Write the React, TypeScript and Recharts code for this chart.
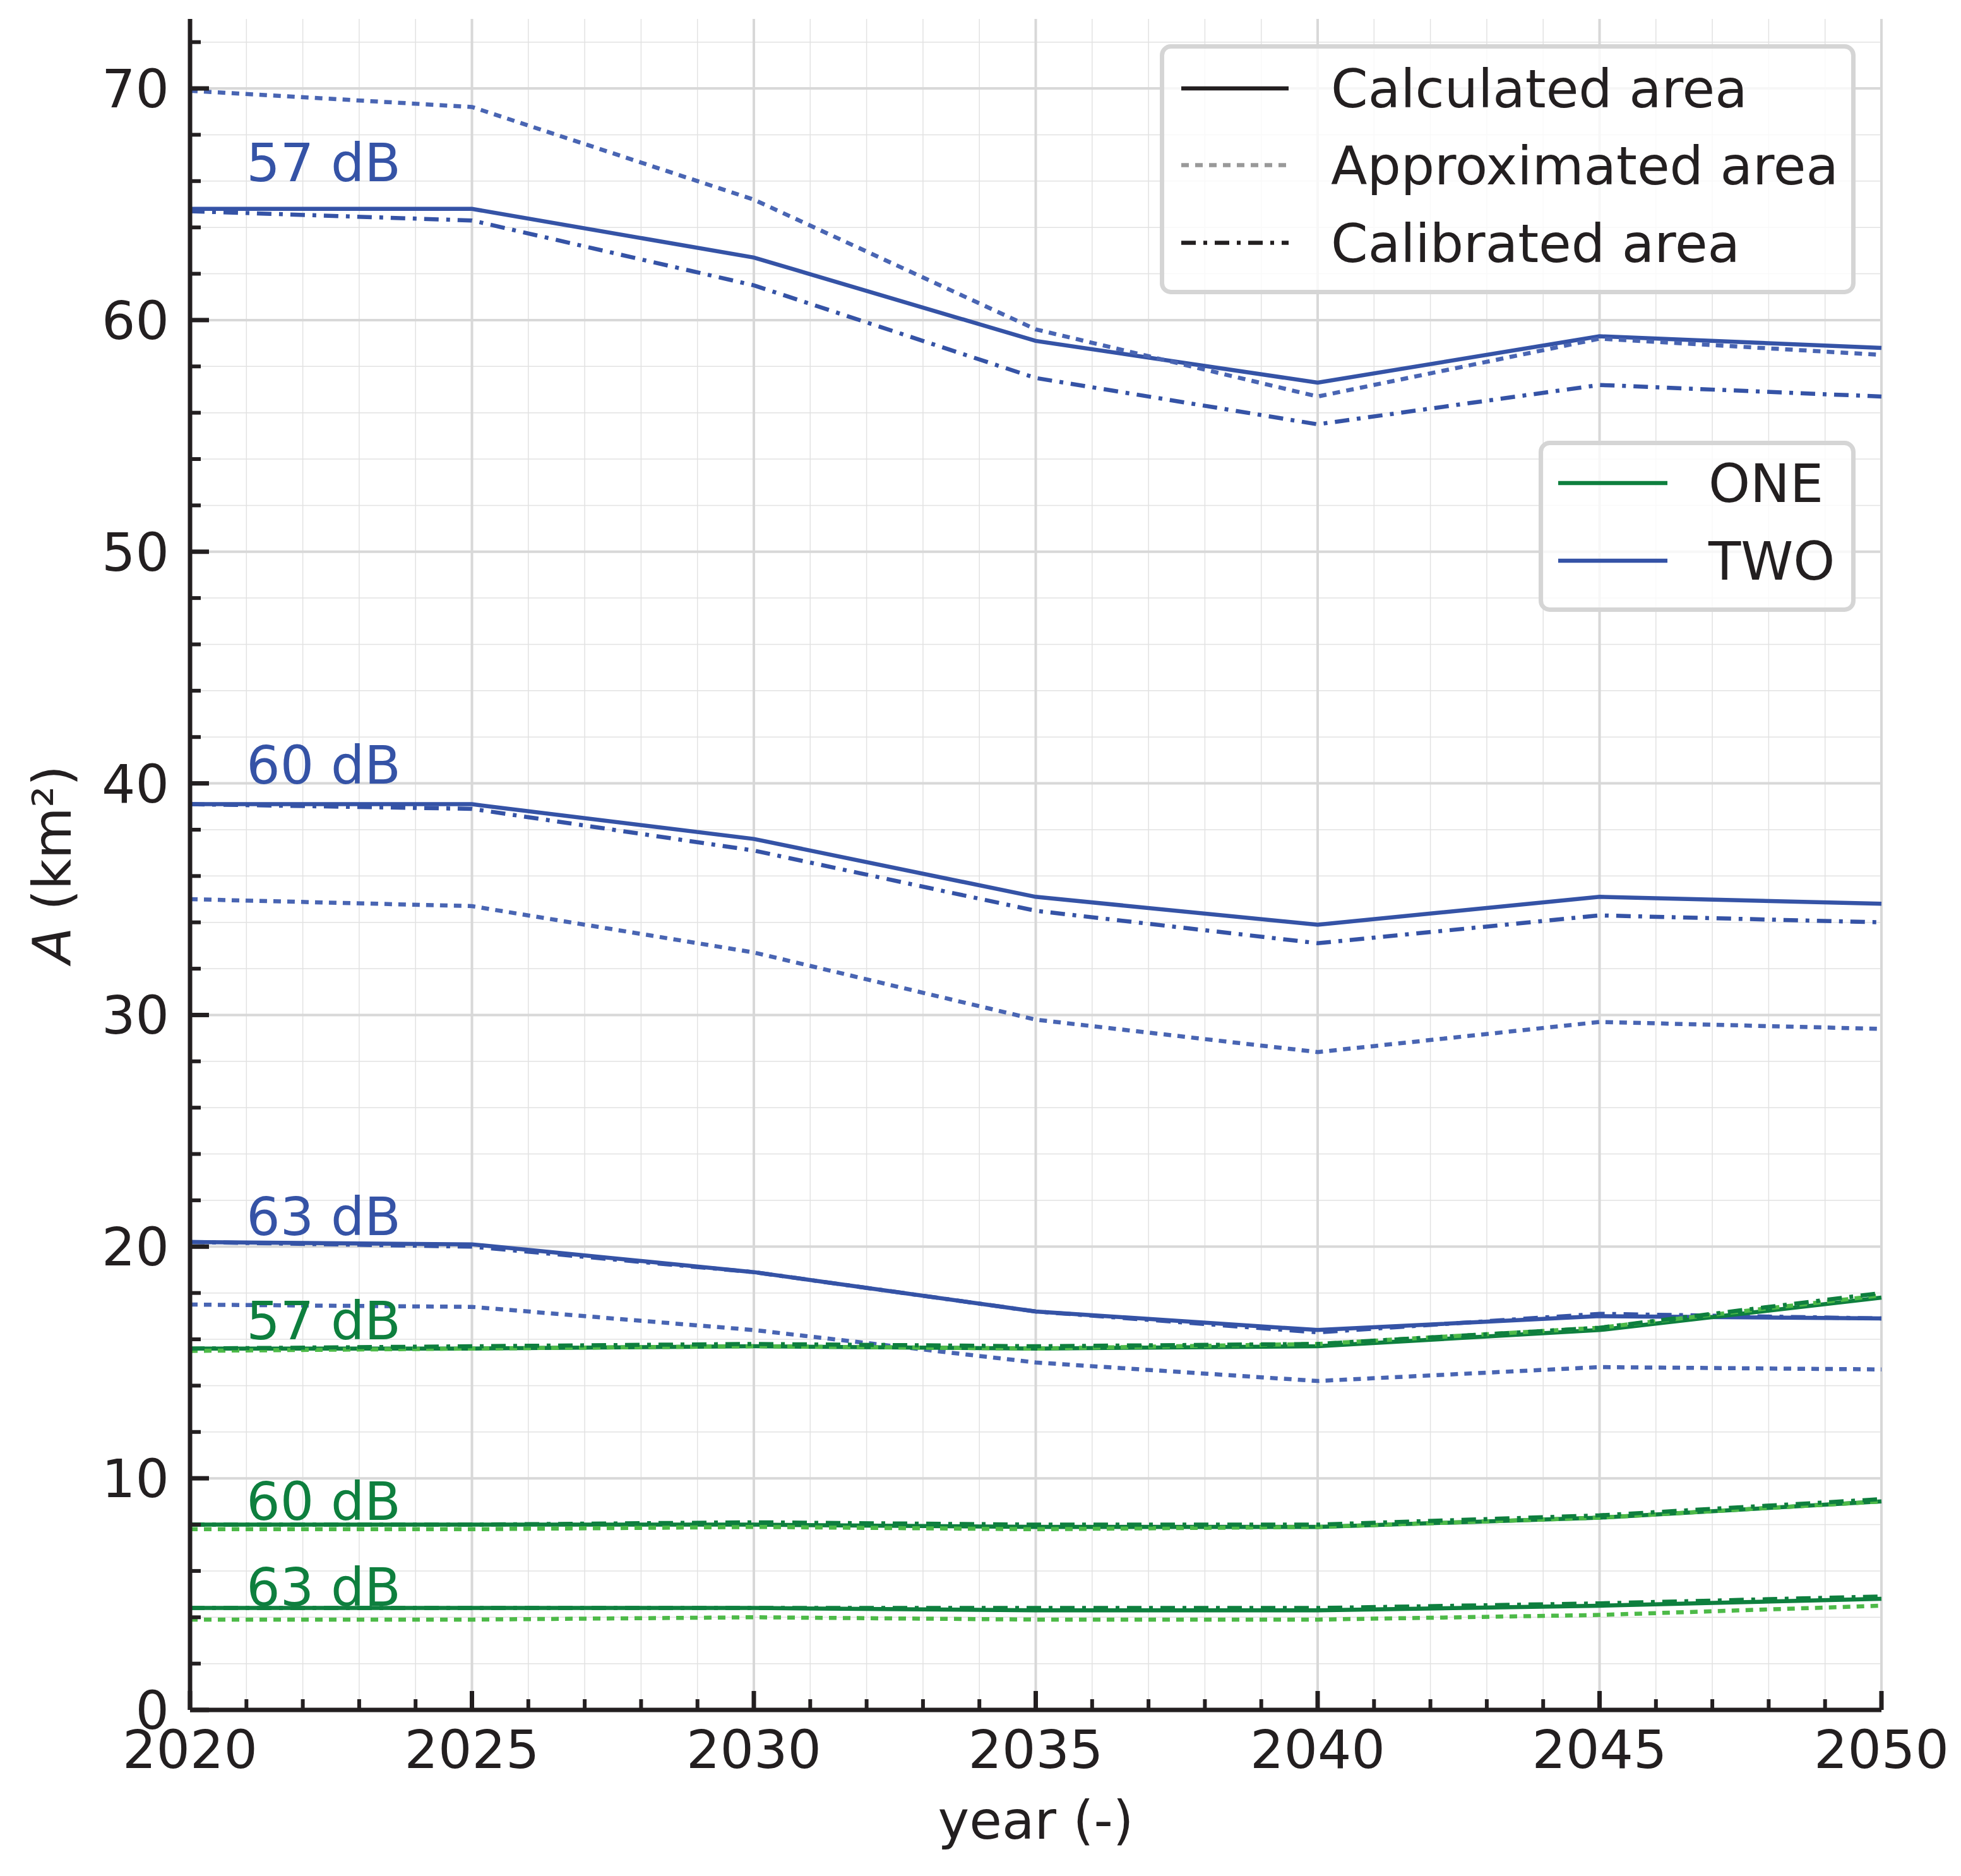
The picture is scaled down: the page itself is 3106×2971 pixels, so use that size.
import React from "react";
import { LineChart, Line, XAxis, YAxis, CartesianGrid, ReferenceDot } from "recharts";

// ---- data ----
const years = [2020, 2025, 2030, 2035, 2040, 2045, 2050];

const two57Calc = [64.8, 64.8, 62.7, 59.1, 57.3, 59.3, 58.8];
const two57Approx = [69.9, 69.2, 65.2, 59.6, 56.7, 59.2, 58.5];
const two57Calib = [64.7, 64.3, 61.5, 57.5, 55.5, 57.2, 56.7];
const two60Calc = [39.1, 39.1, 37.6, 35.1, 33.9, 35.1, 34.8];
const two60Approx = [35.0, 34.7, 32.7, 29.8, 28.4, 29.7, 29.4];
const two60Calib = [39.1, 38.9, 37.1, 34.5, 33.1, 34.3, 34.0];
const two63Calc = [20.2, 20.1, 18.9, 17.2, 16.4, 17.0, 16.9];
const two63Approx = [17.5, 17.4, 16.4, 15.0, 14.2, 14.8, 14.7];
const two63Calib = [20.2, 20.0, 18.9, 17.2, 16.3, 17.1, 16.9];

const one57Calc = [15.6, 15.6, 15.7, 15.6, 15.7, 16.4, 17.8];
const one57Approx = [15.5, 15.6, 15.7, 15.6, 15.8, 16.5, 17.9];
const one57Calib = [15.6, 15.7, 15.8, 15.7, 15.8, 16.5, 18.0];
const one60Calc = [8.0, 8.0, 8.0, 7.9, 7.9, 8.3, 9.0];
const one60Approx = [7.8, 7.8, 7.9, 7.8, 7.9, 8.3, 9.0];
const one60Calib = [8.0, 8.0, 8.1, 8.0, 8.0, 8.4, 9.1];
const one63Calc = [4.4, 4.4, 4.4, 4.3, 4.3, 4.5, 4.8];
const one63Approx = [3.9, 3.9, 4.0, 3.9, 3.9, 4.1, 4.5];
const one63Calib = [4.4, 4.4, 4.4, 4.4, 4.4, 4.6, 4.9];

const levelLabels = ["57 dB", "60 dB", "63 dB"];
const labelYear = 2021;
const twoLabelY = [66.0, 40.0, 20.5];
const oneLabelY = [16.0, 8.2, 4.5];

const xTicks = Array.from({ length: 31 }, (_, i) => 2020 + i);
const yTicks = Array.from({ length: 37 }, (_, i) => i * 2);
const xMajor = [2020, 2025, 2030, 2035, 2040, 2045, 2050];
const yMajor = [0, 10, 20, 30, 40, 50, 60, 70];
const xMinor = xTicks.filter((v) => v % 5 !== 0);
const yMinor = yTicks.filter((v) => v % 10 !== 0);

const legendTypes = ["Calculated area", "Approximated area", "Calibrated area"];
const legendGroups = ["ONE", "TWO"];

// ---- styles ----
const FONT = "DejaVu Sans";
const INK = "#231f20";
const BLUE = "#3553a6";
const BLUE_APPROX = "#4965b3";
const GREEN = "#0e7f3e";
const GREEN_APPROX = "#4dba48";
const DOT = "12 10";
const DASHDOT = "23 12 6 12";
const LW = 6.5;
const SPINE = 7;
const FS = 84;

const series = [
  { key: "two57Calc", vals: two57Calc, color: BLUE, dash: undefined },
  { key: "two57Approx", vals: two57Approx, color: BLUE_APPROX, dash: DOT },
  { key: "two57Calib", vals: two57Calib, color: BLUE, dash: DASHDOT },
  { key: "two60Calc", vals: two60Calc, color: BLUE, dash: undefined },
  { key: "two60Approx", vals: two60Approx, color: BLUE_APPROX, dash: DOT },
  { key: "two60Calib", vals: two60Calib, color: BLUE, dash: DASHDOT },
  { key: "two63Calc", vals: two63Calc, color: BLUE, dash: undefined },
  { key: "two63Approx", vals: two63Approx, color: BLUE_APPROX, dash: DOT },
  { key: "two63Calib", vals: two63Calib, color: BLUE, dash: DASHDOT },
  { key: "one57Calc", vals: one57Calc, color: GREEN, dash: undefined },
  { key: "one57Approx", vals: one57Approx, color: GREEN_APPROX, dash: DOT },
  { key: "one57Calib", vals: one57Calib, color: GREEN, dash: DASHDOT },
  { key: "one60Calc", vals: one60Calc, color: GREEN, dash: undefined },
  { key: "one60Approx", vals: one60Approx, color: GREEN_APPROX, dash: DOT },
  { key: "one60Calib", vals: one60Calib, color: GREEN, dash: DASHDOT },
  { key: "one63Calc", vals: one63Calc, color: GREEN, dash: undefined },
  { key: "one63Approx", vals: one63Approx, color: GREEN_APPROX, dash: DOT },
  { key: "one63Calib", vals: one63Calib, color: GREEN, dash: DASHDOT },
];

const rows = years.map((year, i) => {
  const r: Record<string, number> = { year };
  series.forEach((s) => {
    r[s.key] = s.vals[i];
  });
  return r;
});

const W = 3090;
const H = 2955;

const XTick = (props: any) => {
  const { x, y, payload } = props;
  const v = payload.value;
  const major = v % 5 === 0;
  return (
    <g>
      <line x1={x} x2={x} y1={y} y2={y - (major ? 30 : 17)} stroke={INK} strokeWidth={major ? 7 : 6} />
      {major && (
        <text x={x} y={y + 92} textAnchor="middle" fontSize={FS} fontFamily={FONT} fill={INK}>
          {v}
        </text>
      )}
    </g>
  );
};

const YTick = (props: any) => {
  const { x, y, payload } = props;
  const v = payload.value;
  const major = v % 10 === 0;
  return (
    <g>
      <line x1={x} x2={x + (major ? 30 : 17)} y1={y} y2={y} stroke={INK} strokeWidth={major ? 7 : 6} />
      {major && (
        <text x={x - 33} y={y + 30} textAnchor="end" fontSize={FS} fontFamily={FONT} fill={INK}>
          {v}
        </text>
      )}
    </g>
  );
};

const XLabel = (props: any) => {
  const vb = props.viewBox || {};
  return (
    <text x={vb.x + vb.width / 2} y={vb.y + 204} textAnchor="middle" fontSize={FS} fontFamily={FONT} fill={INK}>
      year (-)
    </text>
  );
};

const YLabel = (props: any) => {
  const vb = props.viewBox || {};
  const cx = vb.x + 104;
  const cy = vb.y + vb.height / 2;
  return (
    <text
      x={cx}
      y={cy}
      transform={`rotate(-90, ${cx}, ${cy})`}
      textAnchor="middle"
      fontSize={FS}
      fontFamily={FONT}
      fill={INK}
    >
      <tspan fontStyle="italic">A</tspan> (km²)
    </text>
  );
};

const makeLabelShape = (text: string, color: string) => (p: any) => (
  <text x={p.cx} y={p.cy} textAnchor="start" fontSize={FS} fontFamily={FONT} fill={color}>
    {text}
  </text>
);

const LegendSample = ({ x1, x2, y, color, dash }: any) => (
  <line x1={x1} x2={x2} y1={y} y2={y} stroke={color} strokeWidth={LW} strokeDasharray={dash} />
);

export default function App() {
  const typeStyles = [
    { color: INK, dash: undefined },
    { color: "#999999", dash: DOT },
    { color: INK, dash: DASHDOT },
  ];
  const groupColors = [GREEN, BLUE];
  const typeRowsY = [132, 253.5, 376.6];
  const groupRowsY = [757, 880];
  return (
    <div style={{ position: "relative", width: W, height: H, fontFamily: FONT }}>
      <LineChart width={W} height={H} data={rows} margin={{ top: 22, right: 118, bottom: 55, left: 0 }}>
        <CartesianGrid
          horizontalValues={yMinor}
          verticalValues={xMinor}
          stroke="#e2e2e2"
          strokeWidth={1.5}
          fill="none"
        />
        <CartesianGrid
          horizontalValues={yMajor}
          verticalValues={xMajor}
          stroke="#d8d8d8"
          strokeWidth={4}
          fill="none"
        />
        <XAxis
          dataKey="year"
          type="number"
          domain={[2020, 2050]}
          ticks={xTicks}
          interval={0}
          tickSize={0}
          tickMargin={0}
          tickLine={false}
          tick={XTick}
          axisLine={{ stroke: INK, strokeWidth: SPINE }}
          height={200}
          label={XLabel}
        />
        <XAxis
          xAxisId="top"
          orientation="top"
          dataKey="year"
          type="number"
          domain={[2020, 2050]}
          height={0}
          tick={false}
          tickLine={false}
          axisLine={{ stroke: INK, strokeWidth: SPINE }}
        />
        <YAxis
          type="number"
          domain={[0, 73]}
          ticks={yTicks}
          interval={0}
          tickSize={0}
          tickMargin={0}
          tickLine={false}
          tick={YTick}
          axisLine={{ stroke: INK, strokeWidth: SPINE }}
          width={293}
          label={YLabel}
        />
        <YAxis
          yAxisId="right"
          orientation="right"
          type="number"
          domain={[0, 73]}
          width={0}
          tick={false}
          tickLine={false}
          axisLine={{ stroke: INK, strokeWidth: SPINE }}
        />
        {series.map((s) => (
          <Line
            key={s.key}
            dataKey={s.key}
            type="linear"
            stroke={s.color}
            strokeWidth={LW}
            strokeDasharray={s.dash}
            dot={false}
            activeDot={false}
            isAnimationActive={false}
          />
        ))}
        {levelLabels.map((t, i) => (
          <ReferenceDot
            key={"two" + t}
            x={labelYear}
            y={twoLabelY[i]}
            r={0}
            shape={makeLabelShape(t, BLUE)}
          />
        ))}
        {levelLabels.map((t, i) => (
          <ReferenceDot
            key={"one" + t}
            x={labelYear}
            y={oneLabelY[i]}
            r={0}
            shape={makeLabelShape(t, GREEN)}
          />
        ))}
      </LineChart>
      <svg
        width={W}
        height={H}
        style={{ position: "absolute", left: 0, top: 0, pointerEvents: "none" }}
      >
        <rect x={1832.5} y={65.5} width={1095} height={389} rx={14} fill="#ffffff" fillOpacity={0.8} stroke="#d5d5d5" strokeWidth={7} />
        {legendTypes.map((t, i) => (
          <g key={t}>
            <LegendSample x1={1863} x2={2033} y={typeRowsY[i]} color={typeStyles[i].color} dash={typeStyles[i].dash} />
            <text x={2100} y={typeRowsY[i] + 30} fontSize={FS} fontFamily={FONT} fill={INK}>
              {t}
            </text>
          </g>
        ))}
        <rect x={2432.5} y={693.5} width={495} height={264} rx={14} fill="#ffffff" fillOpacity={0.8} stroke="#d5d5d5" strokeWidth={7} />
        {legendGroups.map((t, i) => (
          <g key={t}>
            <LegendSample x1={2460} x2={2633} y={groupRowsY[i]} color={groupColors[i]} />
            <text x={2698} y={groupRowsY[i] + 30} fontSize={FS} fontFamily={FONT} fill={INK}>
              {t}
            </text>
          </g>
        ))}
      </svg>
    </div>
  );
}
